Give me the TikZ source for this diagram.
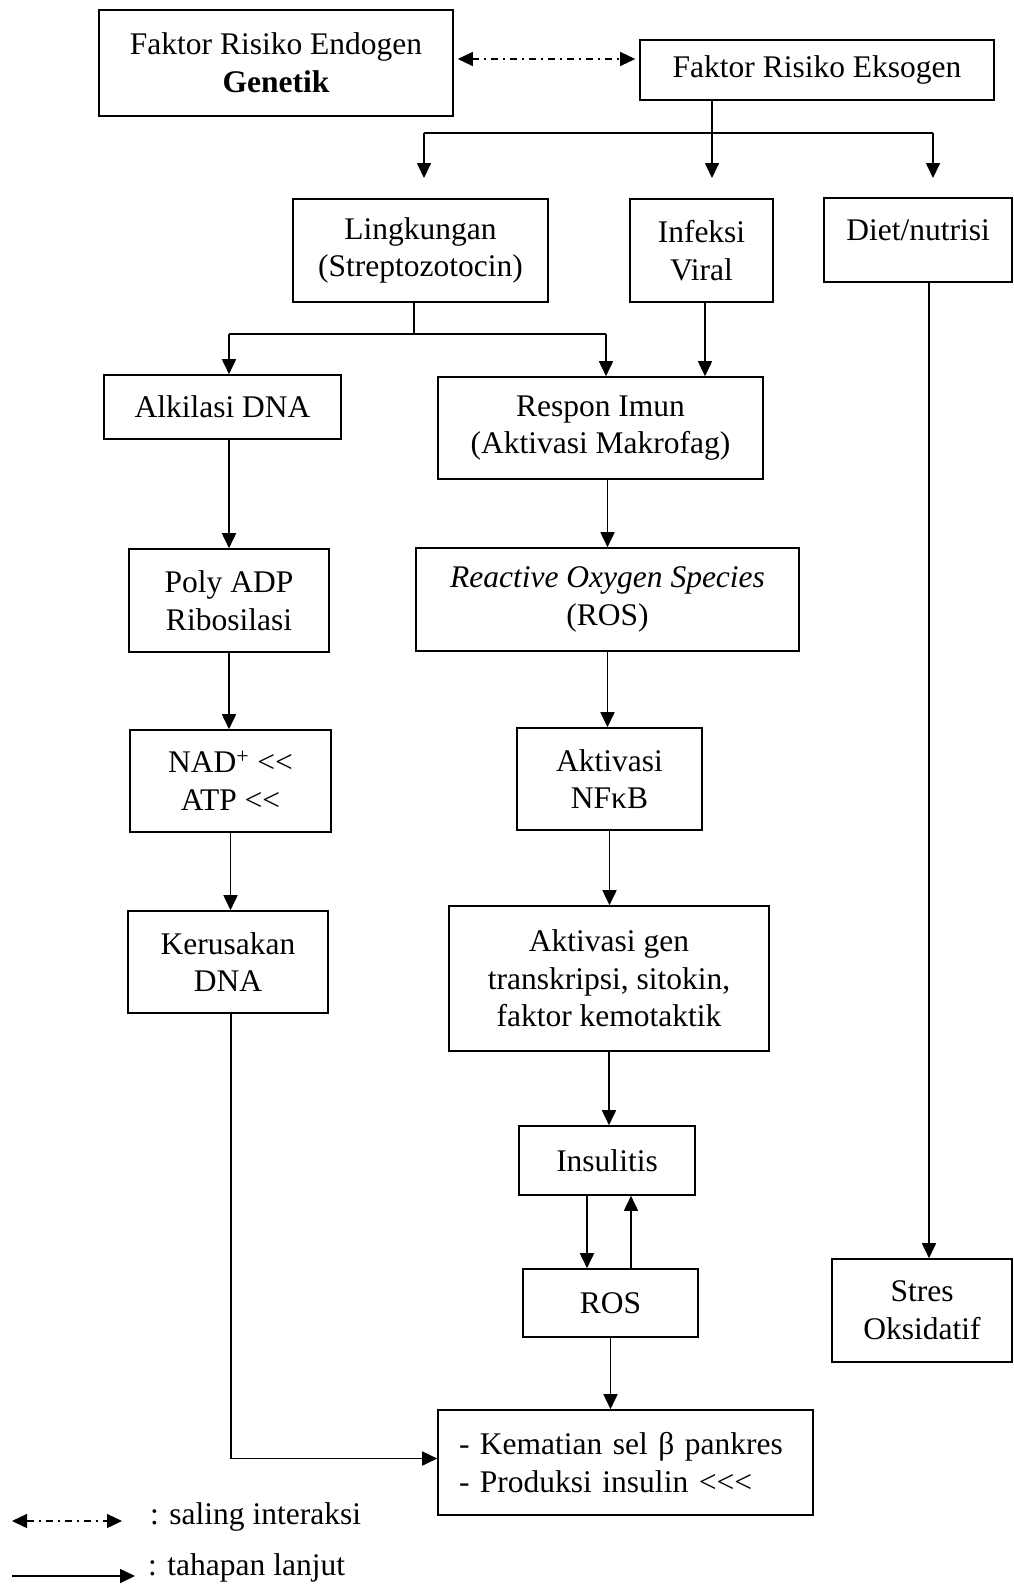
\documentclass[tikz,border=0pt]{standalone}
\usepackage{fontspec}
\setmainfont{Liberation Serif}[Ligatures=TeXOff]
\usetikzlibrary{arrows.meta}

\begin{document}
\begin{tikzpicture}[x=1pt, y=-1pt, font=\fontsize{31.5}{37.7}\selectfont,
        kotak/.style={draw, line width=1.6pt, align=center, inner sep=0pt},
        tahap/.style={-{Triangle[length=15pt,width=14pt]}, line width=1.7pt},
        interaksi/.style={{Triangle[length=15pt,width=14pt]}-{Triangle[length=15pt,width=14pt]},
            line width=1.3pt, dash pattern=on 7pt off 5pt on 2pt off 5pt}]
            \useasboundingbox (0,0) rectangle (1013,1587);

            % faktor risiko
            \node[kotak, minimum width=354pt, minimum height=106pt] (endo) at (276,63) {Faktor Risiko Endogen\\\textbf{Genetik}};
            \node[kotak, minimum width=354pt, minimum height=60pt] (ekso) at (817,70) {Faktor Risiko Eksogen};

            \node[kotak, minimum width=255pt, minimum height=103pt] (lingk) at (420.5,250.5) {Lingkungan\\(Streptozotocin)};
            \node[kotak, minimum width=143pt, minimum height=103pt] (infeksi) at (701.5,250.5) {Infeksi\\Viral};
            \node[kotak, minimum width=188pt, text height=42pt, text depth=42pt] (diet) at (918,240) {Diet/nutrisi};

            % jalur kiri
            \node[kotak, minimum width=237pt, minimum height=64pt] (alkil) at (222.5,407) {Alkilasi DNA};
            \node[kotak, minimum width=200pt, minimum height=103pt] (poly) at (229,600.5) {Poly ADP\\Ribosilasi};
            \node[kotak, minimum width=201pt, minimum height=102pt] (nad) at (230.5,781) {NAD\textsuperscript{+} <<\\ATP <<};
            \node[kotak, minimum width=200pt, minimum height=102pt] (rusak) at (228,962) {Kerusakan\\DNA};

            % jalur tengah
            \node[kotak, minimum width=325pt, minimum height=102pt] (respon) at (600.5,428) {Respon Imun\\(Aktivasi Makrofag)};
            \node[kotak, minimum width=383pt, minimum height=103pt] (ros) at (607.5,599.5) {\textit{Reactive Oxygen Species}\\(ROS)};
            \node[kotak, minimum width=185pt, minimum height=102pt] (nfkb) at (609.5,779) {Aktivasi\\NFκB};
            \node[kotak, minimum width=320pt, minimum height=145pt] (gen) at (609,978.5) {Aktivasi gen\\transkripsi, sitokin,\\faktor kemotaktik};
            \node[kotak, minimum width=176pt, minimum height=69pt] (insul) at (607,1160.5) {Insulitis};
            \node[kotak, minimum width=175pt, minimum height=68pt] (ros2) at (610.5,1303) {ROS};
            \node[kotak, minimum width=180pt, minimum height=103pt] (stres) at (922,1310.5) {Stres\\Oksidatif};
            \node[kotak, minimum width=375pt, minimum height=105pt, text width=333pt, align=left] (akhir) at (625.5,1462.5) {- Kematian sel β pankres\\- Produksi insulin <<<};

            % percabangan
            \coordinate (ek1) at (424,133);
            \coordinate (ek2) at (712,133);
            \coordinate (ek3) at (933,133);
            \coordinate (ek1b) at (424,178);
            \coordinate (ek2b) at (712,178);
            \coordinate (ek3b) at (933,178);
            \coordinate (lk1) at (229,334);
            \coordinate (lk2) at (414,334);
            \coordinate (lk3) at (606,334);

            \draw[interaksi, shorten <=4pt, shorten >=4pt] ([yshift=4pt]endo.east) -- ([yshift=4pt]endo.east -| ekso.west);
            \draw[line width=1.7pt] (ekso.south -| ek2) -- (ek2);
            \draw[line width=1.7pt] (ek1) -- (ek3);
            \draw[tahap] (ek1) -- (ek1b);
            \draw[tahap] (ek2) -- (ek2b);
            \draw[tahap] (ek3) -- (ek3b);

            \draw[line width=1.7pt] (lingk.south -| lk2) -- (lk2);
            \draw[line width=1.7pt] (lk1) -- (lk3);
            \draw[tahap] (lk1) -- (lk1 |- alkil.north);
            \draw[tahap] (lk3) -- (lk3 |- respon.north);
            \draw[tahap] ([xshift=3.5pt]infeksi.south) -- ([xshift=3.5pt]infeksi.south |- respon.north);

            \draw[tahap] (poly.north |- alkil.south) -- (poly.north);
            \draw[tahap] (poly.south) -- (poly.south |- nad.north);
            \draw[tahap] (nad.south) -- (nad.south |- rusak.north);
            \draw[tahap] ([xshift=3pt]rusak.south) |- ([yshift=4pt]akhir.west);

            \draw[tahap] (ros.north |- respon.south) -- (ros.north);
            \draw[tahap] (ros.south) -- (ros.south |- nfkb.north);
            \draw[tahap] (nfkb.south) -- (nfkb.south |- gen.north);
            \draw[tahap] (gen.south) -- (gen.south |- insul.north);
            \draw[tahap] ([xshift=-20pt]insul.south) -- ([xshift=-20pt]insul.south |- ros2.north);
            \draw[tahap] ([xshift=24pt]insul.south |- ros2.north) -- ([xshift=24pt]insul.south);
            \draw[tahap] (ros2.south) -- (ros2.south |- akhir.north);

            \draw[tahap] ([xshift=11pt]diet.south) -- ([xshift=11pt]diet.south |- stres.north);

            % keterangan
            \coordinate (ket1a) at (12,1521);
            \coordinate (ket1b) at (122,1521);
            \coordinate (ket2a) at (12,1576);
            \coordinate (ket2b) at (135,1576);
            \draw[interaksi] (ket1a) -- (ket1b);
            \draw[tahap] (ket2a) -- (ket2b);
            \node[anchor=west, inner sep=0pt] (ket1) at (150,1517) {: saling interaksi};
            \node[anchor=west, inner sep=0pt] (ket2) at (148,1568) {: tahapan lanjut};
        \end{tikzpicture}
\end{document}
